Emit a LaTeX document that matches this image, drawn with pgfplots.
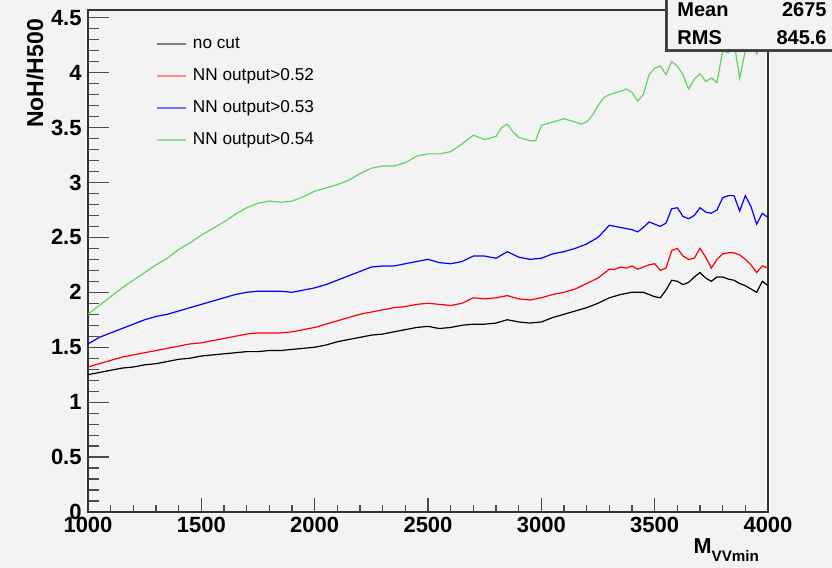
\documentclass[border=0pt]{standalone}
\usepackage{fontspec}
\setmainfont{Liberation Sans}
\usepackage{pgfplots}
\pgfplotsset{compat=1.18}

\definecolor{bgc}{RGB}{243,243,243}
\definecolor{nngreen}{RGB}{100,210,100}

\begin{document}
\begin{tikzpicture}
% page = 832x568 px, 1 px = 0.5pt, axis origin at px (88,512)
\useasboundingbox (-44pt,-28pt) rectangle (372pt,256pt);
\fill[bgc] (-44pt,-28pt) rectangle (372pt,256pt);
\begin{axis}[
    at={(0,0)}, anchor=south west,
    scale only axis,
    width=340pt, height=251pt,
    xmin=1000, xmax=4000,
    ymin=0, ymax=4.57,
    xtick={1000,1500,...,4000},
    ytick={0,0.5,...,4.5},
    minor x tick num=4,
    minor y tick num=4,
    tick pos=left,
    tick align=inside,
    axis background/.style={fill=bgc},
    axis line style={black!80, line width=0.8pt},
    major tick length=10.5pt,
    minor tick length=5.5pt,
    xtick style={black!70, line width=0.6pt, /pgfplots/major tick length=7pt, /pgfplots/minor tick length=3.5pt},
    ytick style={black!70, line width=0.6pt},
    /pgf/number format/assume math mode=true,
    /pgf/number format/1000 sep={},
    ticklabel style={font=\fontsize{11}{11}\selectfont\bfseries},
    yticklabel style={inner sep=3pt},
    xticklabel style={inner sep=2.5pt},
    every axis y label/.style={at={(rel axis cs:0,1)}, xshift=-26.5pt, yshift=-1pt, rotate=90, anchor=east, font=\fontsize{11.5}{11.5}\selectfont\bfseries},
    ylabel={NoH/H500},
    every axis x label/.style={at={(rel axis cs:1,0)}, xshift=-1pt, yshift=-21pt, anchor=base east, font=\fontsize{10.8}{10.8}\selectfont\bfseries},
    xlabel={M\raisebox{-4pt}{\fontsize{7.6}{7.6}\selectfont VVmin}},
    legend style={at={(rel axis cs:0,1)}, anchor=north west, xshift=34pt, yshift=-12pt,
        draw=none, fill=none, inner sep=0pt, row sep=5.5pt,
        font=\fontsize{8.6}{8.6}\selectfont, nodes={inner sep=1.5pt}},
    legend cell align=left,
    legend image code/.code={\draw[#1, line width=1pt] (0pt,0pt) -- (14.5pt,0pt);},
    clip=true,
]
\addlegendimage{black!50}
\addlegendentry{\hspace{1.3pt}no cut}
\addlegendimage{red!45}
\addlegendentry{\hspace{1.3pt}NN output>0.52}
\addlegendimage{blue!55}
\addlegendentry{\hspace{1.3pt}NN output>0.53}
\addlegendimage{nngreen!70}
\addlegendentry{\hspace{1.3pt}NN output>0.54}

% no cut
\addplot[forget plot, black, line width=0.6pt] coordinates {
(1000,1.25)(1050,1.27)(1100,1.29)(1150,1.31)(1200,1.32)(1250,1.34)(1300,1.35)(1350,1.37)
(1400,1.39)(1450,1.40)(1500,1.42)(1550,1.43)(1600,1.44)(1650,1.45)(1700,1.46)(1750,1.46)
(1800,1.47)(1850,1.47)(1900,1.48)(1950,1.49)(2000,1.50)(2050,1.52)(2100,1.55)(2150,1.57)
(2200,1.59)(2250,1.61)(2300,1.62)(2350,1.64)(2400,1.66)(2450,1.68)(2500,1.69)(2550,1.67)
(2600,1.68)(2650,1.70)(2700,1.71)(2750,1.71)(2800,1.72)(2850,1.75)(2900,1.73)(2950,1.72)
(3000,1.73)(3050,1.77)(3100,1.80)(3150,1.83)(3200,1.86)(3250,1.90)(3300,1.95)(3350,1.98)
(3400,2.00)(3450,2.00)(3500,1.96)(3525,1.95)(3550,2.02)(3575,2.11)(3600,2.10)(3625,2.07)
(3650,2.09)(3675,2.14)(3700,2.18)(3725,2.13)(3750,2.10)(3775,2.14)(3800,2.14)(3825,2.12)
(3850,2.11)(3875,2.08)(3900,2.06)(3925,2.03)(3950,2.00)(3975,2.10)(4000,2.06)
};

% NN output>0.52
\addplot[forget plot, red, line width=0.6pt] coordinates {
(1000,1.32)(1050,1.35)(1100,1.38)(1150,1.41)(1200,1.43)(1250,1.45)(1300,1.47)(1350,1.49)
(1400,1.51)(1450,1.53)(1500,1.54)(1550,1.56)(1600,1.58)(1650,1.60)(1700,1.62)(1750,1.63)
(1800,1.63)(1850,1.63)(1900,1.64)(1950,1.66)(2000,1.68)(2050,1.71)(2100,1.74)(2150,1.77)
(2200,1.80)(2250,1.82)(2300,1.84)(2350,1.86)(2400,1.87)(2450,1.89)(2500,1.90)(2550,1.89)
(2600,1.88)(2650,1.90)(2700,1.95)(2750,1.94)(2800,1.95)(2850,1.97)(2900,1.94)(2950,1.93)
(3000,1.95)(3050,1.98)(3100,2.00)(3150,2.03)(3200,2.08)(3250,2.13)(3300,2.21)(3325,2.21)
(3350,2.23)(3375,2.22)(3400,2.24)(3425,2.21)(3450,2.23)(3475,2.25)(3500,2.26)(3525,2.20)
(3550,2.22)(3575,2.38)(3600,2.40)(3625,2.33)(3650,2.30)(3675,2.31)(3700,2.40)(3725,2.32)
(3750,2.22)(3775,2.30)(3800,2.35)(3825,2.36)(3850,2.36)(3875,2.34)(3900,2.30)(3925,2.25)
(3950,2.18)(3975,2.24)(4000,2.22)
};

% NN output>0.53
\addplot[forget plot, blue, line width=0.6pt] coordinates {
(1000,1.53)(1050,1.59)(1100,1.63)(1150,1.67)(1200,1.71)(1250,1.75)(1300,1.78)(1350,1.80)
(1400,1.83)(1450,1.86)(1500,1.89)(1550,1.92)(1600,1.95)(1650,1.98)(1700,2.00)(1750,2.01)
(1800,2.01)(1850,2.01)(1900,2.00)(1950,2.02)(2000,2.04)(2050,2.07)(2100,2.11)(2150,2.15)
(2200,2.19)(2250,2.23)(2300,2.24)(2350,2.24)(2400,2.26)(2450,2.28)(2500,2.30)(2550,2.27)
(2600,2.26)(2650,2.28)(2700,2.33)(2750,2.33)(2800,2.31)(2850,2.37)(2900,2.32)(2950,2.30)
(3000,2.31)(3050,2.35)(3100,2.37)(3150,2.40)(3200,2.44)(3250,2.50)(3300,2.61)(3325,2.60)
(3350,2.59)(3375,2.58)(3400,2.57)(3425,2.55)(3450,2.59)(3475,2.64)(3500,2.62)(3525,2.60)
(3550,2.63)(3575,2.76)(3600,2.77)(3625,2.69)(3650,2.67)(3675,2.70)(3700,2.77)(3725,2.73)
(3750,2.72)(3775,2.75)(3800,2.86)(3825,2.88)(3850,2.88)(3875,2.74)(3900,2.88)(3925,2.78)
(3950,2.62)(3975,2.72)(4000,2.68)
};

% NN output>0.54
\addplot[forget plot, nngreen, line width=0.6pt] coordinates {
(1000,1.80)(1050,1.88)(1100,1.96)(1150,2.04)(1200,2.11)(1250,2.18)(1300,2.25)(1350,2.31)
(1400,2.39)(1450,2.45)(1500,2.52)(1550,2.58)(1600,2.64)(1650,2.71)(1700,2.77)(1750,2.81)
(1800,2.83)(1850,2.82)(1900,2.83)(1950,2.87)(2000,2.92)(2050,2.95)(2100,2.98)(2150,3.02)
(2200,3.08)(2250,3.13)(2300,3.15)(2350,3.15)(2400,3.18)(2450,3.24)(2500,3.26)(2550,3.26)
(2600,3.28)(2650,3.35)(2700,3.43)(2750,3.39)(2800,3.42)(2825,3.50)(2850,3.53)(2875,3.46)
(2900,3.41)(2950,3.38)(2975,3.38)(3000,3.52)(3050,3.55)(3100,3.58)(3150,3.55)(3175,3.53)
(3200,3.55)(3225,3.61)(3250,3.70)(3275,3.77)(3300,3.80)(3350,3.83)(3375,3.85)(3400,3.82)
(3425,3.74)(3450,3.80)(3475,3.98)(3500,4.04)(3525,4.06)(3550,3.98)(3575,4.10)(3600,4.06)
(3625,3.98)(3650,3.85)(3675,3.94)(3700,3.99)(3725,3.92)(3750,3.95)(3775,3.91)(3800,4.20)
(3825,4.18)(3850,4.28)(3875,3.95)(3900,4.20)(3925,4.32)(3950,4.17)(3975,4.25)(4000,4.20)
};
\end{axis}

% statistics box (cut at the page edge)
\fill[black!75] (288.5pt,230pt) rectangle (420pt,270pt);
\filldraw[fill=bgc, draw=black!70, line width=0.5pt] (289.5pt,231pt) rectangle (420pt,270pt);
\begin{scope}[every node/.style={inner sep=0pt, font=\fontsize{10}{10}\selectfont\bfseries}]
\node[anchor=base west] at (294.5pt,247.5pt) {Mean};
\node[anchor=base east] at (369.5pt,247.5pt) {2675};
\node[anchor=base west] at (294.5pt,233.5pt) {RMS};
\node[anchor=base east] at (369.5pt,233.5pt) {845.6};
\end{scope}
\end{tikzpicture}
\end{document}
